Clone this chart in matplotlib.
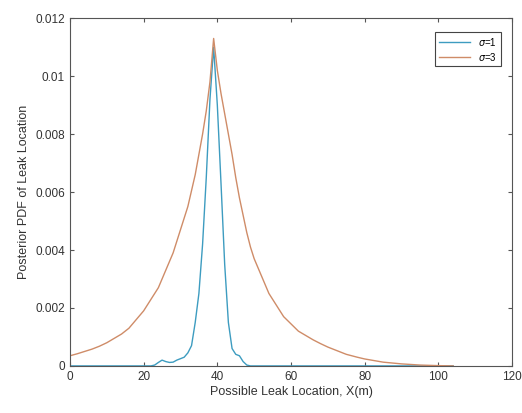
import matplotlib
matplotlib.use("Agg")
import matplotlib.pyplot as plt
from matplotlib.ticker import FuncFormatter

plt.rcParams["font.family"] = ["Liberation Sans", "DejaVu Sans"]

# sigma = 1 posterior
x_s1 = [0, 22, 23, 24, 25, 26, 27, 28, 29, 30, 31, 32, 33, 34, 35, 36, 37, 38,
        39, 40, 41, 42, 43, 44, 45, 46, 47, 48, 49, 104]
pdf_s1 = [0, 0, 0.00003, 0.00012, 0.0002, 0.00015, 0.00012, 0.00013, 0.0002,
          0.00025, 0.0003, 0.00045, 0.0007, 0.0015, 0.0025, 0.0042, 0.0065,
          0.0092, 0.0110, 0.0090, 0.0063, 0.0035, 0.0015, 0.0006, 0.0004,
          0.00035, 0.00015, 0.00003, 0, 0]

# sigma = 3 posterior
x_s3 = [0, 2, 4, 6, 8, 10, 12, 14, 16, 18, 20, 22, 24, 26, 28, 30, 32, 34, 36,
        37, 38, 39, 40, 41, 42, 43, 44, 45, 46, 47, 48, 49, 50, 51, 52, 53, 54,
        55, 56, 57, 58, 60, 62, 64, 66, 68, 70, 72, 75, 78, 80, 85, 90, 95,
        100, 104]
pdf_s3 = [0.00035, 0.00042, 0.0005, 0.00058, 0.00068, 0.0008, 0.00095,
          0.0011, 0.0013, 0.0016, 0.0019, 0.0023, 0.0027, 0.0033, 0.0039,
          0.0047, 0.0055, 0.0066, 0.008, 0.0088, 0.0098, 0.0113, 0.0102,
          0.0094, 0.0087, 0.008, 0.0073, 0.0065, 0.0058, 0.0052, 0.0046,
          0.0041, 0.0037, 0.0034, 0.0031, 0.0028, 0.0025, 0.0023, 0.0021,
          0.0019, 0.0017, 0.00145, 0.0012, 0.00105, 0.0009, 0.00077, 0.00065,
          0.00055, 0.0004, 0.0003, 0.00024, 0.00013, 0.00007, 0.00003,
          0.00001, 0.0]

fig = plt.figure(figsize=(5.22, 4.13), dpi=100)
ax = fig.add_axes([0.134, 0.114, 0.847, 0.842])

ax.plot(x_s1, pdf_s1, color="#3d9cc0", lw=1.0, label=r"$\sigma$=1")
ax.plot(x_s3, pdf_s3, color="#cf8c68", lw=1.0, label=r"$\sigma$=3")

ax.set_xlim(0, 120)
ax.set_ylim(0, 0.012)
ax.set_xticks(range(0, 121, 20))
ax.set_yticks([0, 0.002, 0.004, 0.006, 0.008, 0.01, 0.012])
ax.yaxis.set_major_formatter(FuncFormatter(lambda v, p: f"{v:g}"))
ax.tick_params(direction="in", length=3, top=True, right=True,
               labelsize=8.5, colors="#555555", labelcolor="#333333")
for s in ax.spines.values():
    s.set_color("#555555")
    s.set_linewidth(0.8)

ax.set_xlabel("Possible Leak Location, X(m)", fontsize=9, color="#333333", labelpad=2)
ax.set_ylabel("Posterior PDF of Leak Location", fontsize=9, color="#333333", labelpad=4)

leg = ax.legend(loc="upper right", fontsize=7, fancybox=False, framealpha=1,
                edgecolor="#444444", handlelength=3.2, borderpad=0.4,
                labelspacing=0.3, bbox_to_anchor=(0.985, 0.975))
leg.get_frame().set_linewidth(0.8)

fig.savefig("out.png", dpi=100)
